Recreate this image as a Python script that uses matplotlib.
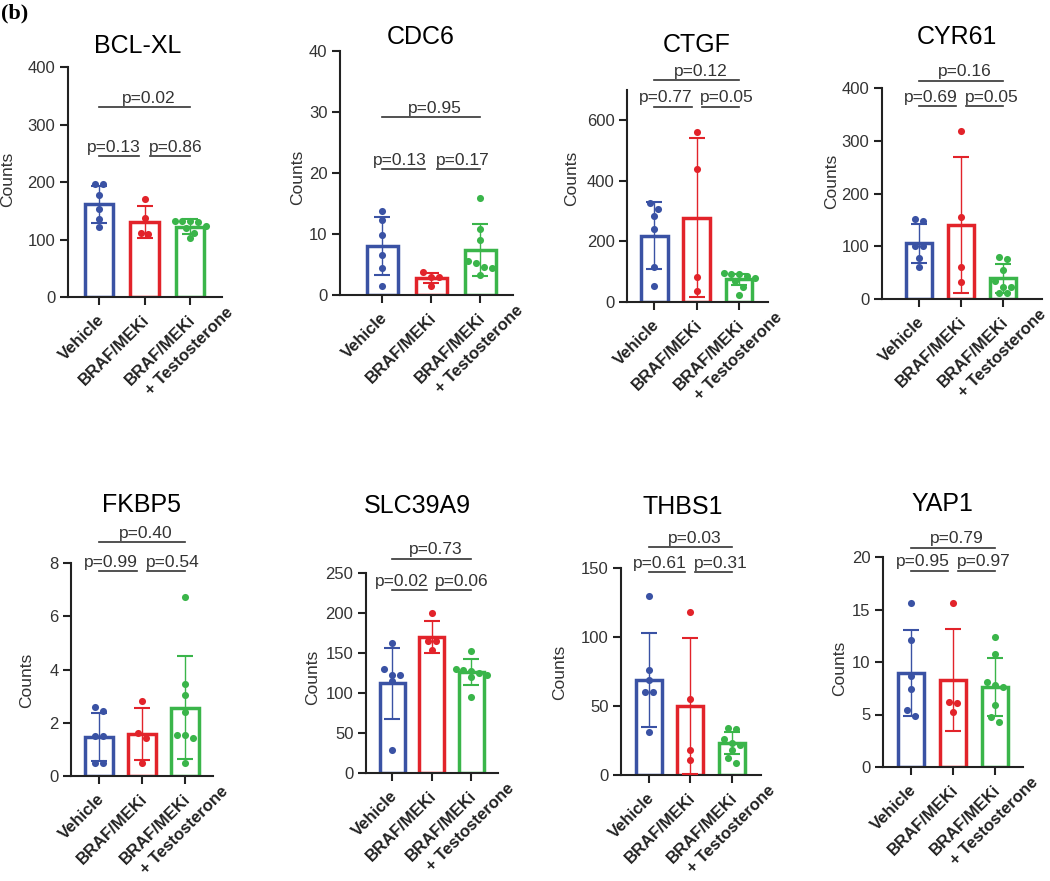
import numpy as np
import matplotlib.pyplot as plt
from matplotlib.font_manager import FontProperties
from matplotlib.textpath import TextPath

plt.rcParams['font.family'] = ['Liberation Sans', 'DejaVu Sans']

W, H = 1050, 881

genes = ["BCL-XL", "CDC6", "CTGF", "CYR61", "FKBP5", "SLC39A9", "THBS1", "YAP1"]
groups = ["Vehicle", "BRAF/MEKi", "BRAF/MEKi"]
extra_line = "+ Testosterone"
colors = ["#3a52a4", "#e2232a", "#3ab54a"]

# bar heights (mean) and error bars (SD)
means = {
    "BCL-XL": [161, 130, 122],
    "CDC6": [8.0, 2.8, 7.4],
    "CTGF": [219, 278, 75],
    "CYR61": [106, 141, 39],
    "FKBP5": [1.48, 1.58, 2.56],
    "SLC39A9": [112, 170, 126],
    "THBS1": [69, 50, 23],
    "YAP1": [8.95, 8.25, 7.6],
}
sds = {
    "BCL-XL": [32, 28, 13],
    "CDC6": [4.8, 0.8, 4.3],
    "CTGF": [111, 262, 19],
    "CYR61": [37, 129, 27],
    "FKBP5": [0.9, 0.97, 1.94],
    "SLC39A9": [44, 20, 16],
    "THBS1": [34, 49, 8],
    "YAP1": [4.1, 4.85, 2.75],
}
points = {
    "BCL-XL": [[196, 196, 177, 153, 136, 122], [170, 137, 110, 111],
               [133, 133, 132, 131, 124, 120, 112, 102]],
    "CDC6": [[13.8, 12.3, 9.8, 6.5, 4.4, 1.5], [3.8, 2.9, 2.9, 1.4],
             [15.9, 10.9, 9.0, 5.5, 5.3, 4.6, 4.5, 3.2]],
    "CTGF": [[326, 306, 284, 240, 116, 53], [561, 439, 83, 35],
             [96, 92, 92, 85, 78, 70, 48, 22]],
    "CYR61": [[152, 148, 101, 100, 78, 60], [319, 155, 61, 32],
              [80, 75, 55, 35, 22, 22, 11, 11]],
    "FKBP5": [[2.6, 2.44, 1.5, 1.5, 0.5, 0.5], [2.83, 1.63, 1.44, 0.5],
              [6.73, 3.45, 3.04, 2.41, 1.54, 1.54, 1.44, 0.5]],
    "SLC39A9": [[162, 130, 123, 122, 115, 29], [200, 165, 165, 154],
                [153, 130, 129, 128, 125, 123, 120, 95]],
    "THBS1": [[130, 76, 69, 60, 60, 31], [118, 55, 18, 11],
              [34, 33, 26, 23, 22, 18, 12, 9]],
    "YAP1": [[15.6, 12.1, 8.7, 7.4, 5.4, 4.9], [15.6, 6.2, 6.1, 5.2],
             [12.4, 10.8, 8.1, 7.8, 7.6, 5.9, 4.8, 4.3]],
}
# (vehicle vs BRAF/MEKi, BRAF/MEKi vs +T, vehicle vs +T)
pvals = {
    "BCL-XL": ["0.13", "0.86", "0.02"],
    "CDC6": ["0.13", "0.17", "0.95"],
    "CTGF": ["0.77", "0.05", "0.12"],
    "CYR61": ["0.69", "0.05", "0.16"],
    "FKBP5": ["0.99", "0.54", "0.40"],
    "SLC39A9": ["0.02", "0.06", "0.73"],
    "THBS1": ["0.61", "0.31", "0.03"],
    "YAP1": ["0.95", "0.97", "0.79"],
}
ymax = [400, 40, 700, 400, 8, 250, 150, 20]
ystep = [100, 10, 200, 100, 2, 50, 50, 5]
bracket_low = [245, 20.7, 645, 365, 7.7, 229, 147.3, 18.7]
bracket_high = [330, 29.2, 733, 414, 8.78, 268, 165.4, 20.9]

# layout in pixels: axes (left, right, y of zero, y of top), title, y label
axes_px = [(68, 222, 297, 67), (340, 513, 295, 51), (627, 768, 302, 90),
           (882, 1042, 299, 88), (71, 213, 776, 563), (366, 498, 773, 573),
           (621, 761, 775, 568), (883, 1023, 767, 557)]
xlims = [(-0.68, 2.70), (-0.86, 2.67), (-0.64, 2.68), (-0.88, 2.93),
         (-0.65, 2.65), (-0.66, 2.68), (-0.67, 2.70), (-0.67, 2.67)]
title_px = [(138, 53), (421, 44), (697, 52), (957, 44),
            (142, 512), (417, 513), (683, 514), (942, 511)]
ylab_px = [(8, 179), (298, 177), (572, 178), (832, 181),
           (27, 680), (313, 677), (560, 672), (840, 668)]


def swarm(ax, center, vals, diam=7.0, step=7.8):
    # points closer than one dot diameter share a row and are spread sideways
    vals = np.asarray(vals, float)
    py = ax.transData.transform(np.column_stack([np.full(len(vals), center, float), vals]))[:, 1]
    order = np.argsort(-py)
    px = np.zeros(len(vals))
    row = []
    for k in list(order) + [None]:
        if k is not None and (not row or py[row[0]] - py[k] < diam):
            row.append(k)
            continue
        n = len(row)
        for m, idx in enumerate(row):
            px[idx] = (m - (n - 1) / 2) * step
        row = [k] if k is not None else []
    cx = ax.transData.transform((center, 0))[0]
    return ax.transData.inverted().transform(np.column_stack([cx + px, py]))[:, 0]


fig = plt.figure(figsize=(W / 100, H / 100), dpi=100)
fig.text(1 / W, 1 - 18 / H, "(b)", family=['Liberation Serif', 'DejaVu Serif'],
         weight='bold', size=16, va='baseline')

lab_fs = 12
w1 = TextPath((0, 0), groups[2], size=lab_fs,
              prop=FontProperties(family='Liberation Sans', weight='bold')).get_extents().width
u = np.array([1, 1]) / np.sqrt(2)
nrm = np.array([1, -1]) / np.sqrt(2)
anchor = np.array([2.0, -15.0])

for i, g in enumerate(genes):
    l, r, b, t = axes_px[i]
    ax = fig.add_axes([l / W, 1 - b / H, (r - l) / W, (b - t) / H])
    ax.set_xlim(*xlims[i])
    ax.set_ylim(0, ymax[i])
    x = np.arange(3)
    ax.bar(x, means[g], width=0.63, facecolor='none', edgecolor=colors,
           linewidth=2.5, zorder=2)
    for j in range(3):
        ax.errorbar(j, means[g][j], yerr=sds[g][j], fmt='none', ecolor=colors[j],
                    elinewidth=1.0, capsize=5.5, capthick=1.5, zorder=3)
        xs = swarm(ax, j, points[g][j])
        ax.scatter(xs, points[g][j], s=26, color=colors[j], linewidths=0,
                   zorder=4, clip_on=False)

    for side in ['top', 'right']:
        ax.spines[side].set_visible(False)
    for side in ['left', 'bottom']:
        ax.spines[side].set_linewidth(1.5)
        ax.spines[side].set_color('#222222')
    ax.set_yticks(np.arange(0, ymax[i] + 1e-9, ystep[i]))
    ax.set_xticks(x)
    ax.set_xticklabels([])
    ax.tick_params(length=6, width=1.5, color='#222222', labelsize=12,
                   labelcolor='#333333', pad=3)

    for j in range(3):
        ax.annotate(groups[j], xy=(j, 0), xycoords=('data', 'axes fraction'),
                    xytext=anchor, textcoords='offset points', rotation=45,
                    rotation_mode='anchor', ha='right', va='center',
                    fontsize=lab_fs, fontweight='bold', color='#222222')
    off = anchor + (-w1 + 4) * u + 15 * nrm
    ax.annotate(extra_line, xy=(2, 0), xycoords=('data', 'axes fraction'),
                xytext=off, textcoords='offset points', rotation=45,
                rotation_mode='anchor', ha='left', va='center',
                fontsize=lab_fs, fontweight='bold', color='#222222')

    # significance brackets
    lo, hi = bracket_low[i], bracket_high[i]
    gap = 0.12
    lk = dict(color='#333333', lw=1.2, clip_on=False)
    ax.plot([0, 1 - gap], [lo, lo], **lk)
    ax.plot([1 + gap, 2], [lo, lo], **lk)
    ax.plot([0, 2], [hi, hi], **lk)
    tk = dict(textcoords='offset points', va='baseline', fontsize=12.5,
              color='#333333', annotation_clip=False)
    ax.annotate("p=" + pvals[g][0], xy=(1 - gap, lo), xytext=(1, 3), ha='right', **tk)
    ax.annotate("p=" + pvals[g][1], xy=(1 + gap, lo), xytext=(-1, 3), ha='left', **tk)
    ax.annotate("p=" + pvals[g][2], xy=(1, hi), xytext=(3, 3), ha='center', **tk)

    fig.text(title_px[i][0] / W, 1 - title_px[i][1] / H, g, ha='center',
             va='baseline', fontsize=18)
    fig.text(ylab_px[i][0] / W, 1 - ylab_px[i][1] / H, "Counts", rotation=90,
             ha='center', va='center', fontsize=12.5, color='#333333')

fig.savefig("out.png", dpi=100)
